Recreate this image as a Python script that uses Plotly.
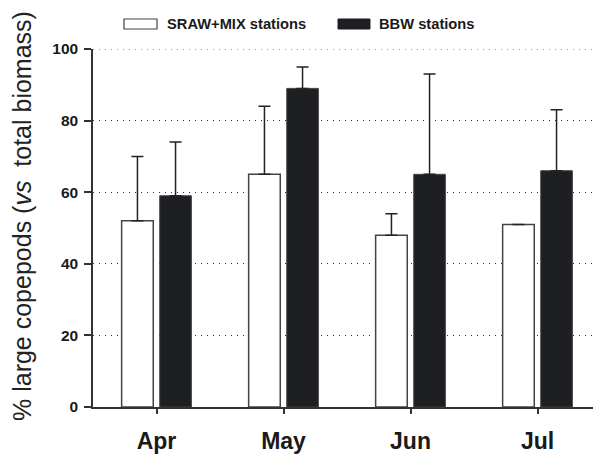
import plotly.graph_objects as go

months = ["Apr", "May", "Jun", "Jul"]
sraw_mix = [52, 65, 48, 51]
sraw_mix_err_top = [70, 84, 54, None]
bbw = [59, 89, 65, 66]
bbw_err_top = [74, 95, 93, 83]
y_ticks = [0, 20, 40, 60, 80, 100]

OFF = 8  # page body margin of the html
W, H = 601 - OFF, 456 - OFF
L, R, T, B = 93 - OFF, 0, 49 - OFF, 49
pw, ph = W - L - R, H - T - B

def px(x):
    return (x - OFF - L) / pw

def py(y):
    return (H - B - (y - OFF)) / ph

def up(tops, vals):
    return [None if t is None else t - v for t, v in zip(tops, vals)]

fig = go.Figure()
fig.add_trace(go.Bar(
    x=months, y=sraw_mix, name="SRAW+MIX stations",
    marker=dict(color="white", line=dict(color="#444", width=1.5)),
    error_y=dict(type="data", symmetric=False,
                 array=up(sraw_mix_err_top, sraw_mix),
                 arrayminus=[0] * len(sraw_mix),
                 color="#222", thickness=1.5, width=6),
))
fig.add_trace(go.Bar(
    x=months, y=bbw, name="BBW stations",
    marker=dict(color="#1e1f22", line=dict(color="#444", width=1)),
    error_y=dict(type="data", symmetric=False,
                 array=up(bbw_err_top, bbw),
                 arrayminus=[0] * len(bbw),
                 color="#222", thickness=1.5, width=6),
))

fig.update_layout(
    width=W, height=H,
    margin=dict(l=L, r=R, t=T, b=B, pad=0, autoexpand=False),
    paper_bgcolor="white", plot_bgcolor="white",
    barmode="group", bargap=0.4, bargroupgap=0.17,
    showlegend=False,
    font=dict(family="Liberation Sans, Arial, sans-serif", color="#222"),
)
fig.update_xaxes(
    type="category", range=[-0.5, 3.5],
    tickvals=months, ticktext=[f"<b>{m}</b>" for m in months],
    tickfont=dict(size=23, color="#1a1a1a"),
    ticks="outside", ticklen=5, tickwidth=1.5, tickcolor="#333",
    ticklabelstandoff=8,
    showline=True, linecolor="#333", linewidth=1.5,
    showgrid=False, zeroline=False, automargin=False,
)
fig.update_yaxes(
    range=[0, 100], tickvals=y_ticks,
    ticktext=[f"<b>{v}</b>" for v in y_ticks],
    tickfont=dict(size=15.5, color="#1a1a1a"),
    ticks="outside", ticklen=7, tickwidth=1.5, tickcolor="#333",
    ticklabelstandoff=3,
    showline=True, linecolor="#333", linewidth=1.5,
    showgrid=True, gridcolor="#333", gridwidth=1.2, griddash="1px,5px",
    zeroline=False, automargin=False,
)

# top gridline (plotly drops the one at the range edge)
fig.add_shape(type="line", xref="paper", yref="y", x0=0, x1=1,
              y0=y_ticks[-1], y1=y_ticks[-1], layer="below",
              line=dict(color="#333", width=1.2, dash="1px,5px"))

# y-axis title
fig.add_annotation(
    text="% large copepods (<i>vs</i>  total biomass)",
    xref="paper", yref="paper", x=px(22), y=py(216),
    xanchor="center", yanchor="middle", textangle=-90, showarrow=False,
    font=dict(size=25, color="#222"),
)

# legend
fig.add_shape(type="rect", xref="paper", yref="paper",
              x0=px(124), x1=px(157), y0=py(29), y1=py(19),
              fillcolor="white", line=dict(color="#444", width=1.2))
fig.add_annotation(text="<b>SRAW+MIX stations</b>", xref="paper", yref="paper",
                   x=px(165), y=py(24), xanchor="left", yanchor="middle",
                   showarrow=False, font=dict(size=14.7, color="#1a1a1a"))
fig.add_shape(type="rect", xref="paper", yref="paper",
              x0=px(338), x1=px(370), y0=py(29), y1=py(19),
              fillcolor="#1e1f22", line=dict(color="#1e1f22", width=1))
fig.add_annotation(text="<b>BBW stations</b>", xref="paper", yref="paper",
                   x=px(377), y=py(24), xanchor="left", yanchor="middle",
                   showarrow=False, font=dict(size=14.7, color="#1a1a1a"))

fig.write_html("out.html")
